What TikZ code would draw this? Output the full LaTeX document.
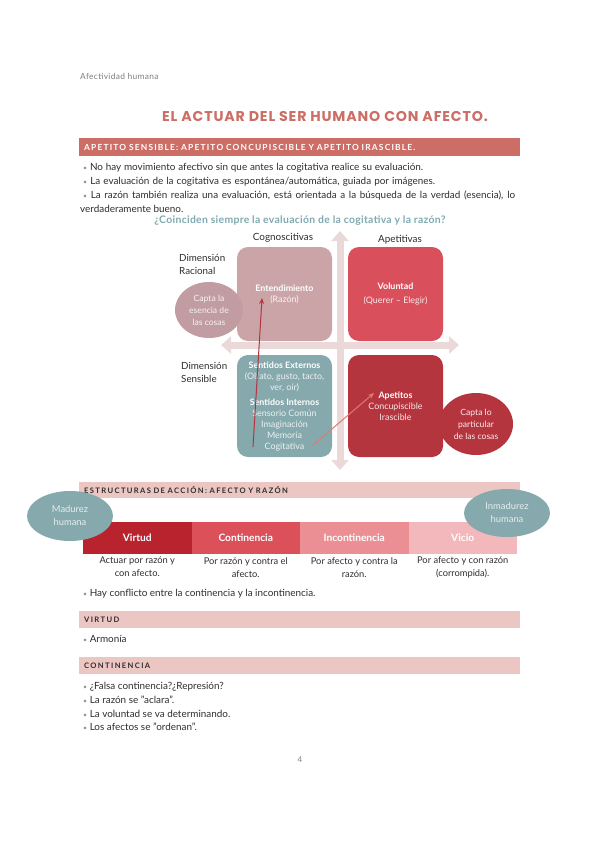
\documentclass[tikz,border=0pt]{standalone}
\usepackage{fontspec}
\setmainfont{Lato}
\newfontfamily\titlefont[LetterSpace=6]{Poppins}
\newfontfamily\capsfont[LetterSpace=14]{Lato}
\newfontfamily\capsfontb[LetterSpace=18,WordSpace=2.2]{Lato}
\newfontfamily\runfont[LetterSpace=4]{Lato}
\newfontfamily\qfont[LetterSpace=3]{Lato}
\usetikzlibrary{arrows.meta,shapes.geometric}
\definecolor{coral}{HTML}{CD6E66}
\definecolor{lightbar}{HTML}{ECC6C3}
\definecolor{teal}{HTML}{85A9AC}
\definecolor{qteal}{HTML}{7FAAB0}
\definecolor{dustypink}{HTML}{CBA4A8}
\definecolor{volred}{HTML}{D94F5C}
\definecolor{apred}{HTML}{B5353F}
\definecolor{axispink}{HTML}{EBD8D9}
\definecolor{virtudc}{HTML}{B8232E}
\definecolor{continc}{HTML}{DC5059}
\definecolor{incontc}{HTML}{EB8F94}
\definecolor{vicioc}{HTML}{F2B8BB}
\definecolor{bodytext}{HTML}{2E2E2E}
\definecolor{bulgray}{HTML}{8A9A9A}
\definecolor{arrowtwo}{HTML}{DE7A72}
\newcommand{\bulmark}{{\color{bulgray}\scalebox{0.7}{•}}\ }
\begin{document}
\begin{tikzpicture}[x=1pt,y=-1pt,
  body/.style={anchor=base west, inner sep=0pt, text=bodytext, font=\fontsize{9.9}{12}\selectfont},
  secbar/.style={anchor=north west, minimum width=441pt, text width=431pt, inner xsep=5pt, inner ysep=0pt, align=left},
  quad/.style={rounded corners=11pt, minimum width=95pt, inner sep=2pt, align=center, text=white, font=\fontsize{8.9}{11}\selectfont},
  blob/.style={ellipse, inner sep=0pt, align=center, font=\fontsize{8.6}{12}\selectfont},
  dimlab/.style={anchor=north west, align=left, inner sep=0pt, text=bodytext, font=\fontsize{9.8}{13}\selectfont},
  axis/.style={draw=axispink, line width=7pt, {Triangle[width=17pt,length=10pt]}-{Triangle[width=17pt,length=10pt]}},
  scalebar/.style={minimum width=108.5pt, minimum height=32pt, inner sep=0pt, text=white, font=\bfseries\fontsize{10.2}{12}\selectfont},
  desc/.style={anchor=north, align=center, inner sep=0pt, text=bodytext, font=\fontsize{9.3}{13}\selectfont}
]
\useasboundingbox (0,0) rectangle (599,848);
\fill[white] (0,0) rectangle (599,848);

\node[anchor=base west, inner sep=0pt, text=gray, font=\runfont\fontsize{8.4}{10}\selectfont] (runhead) at (80,80) {Afectividad humana};
\node[inner sep=0pt, text=coral, font=\titlefont\bfseries\fontsize{14.2}{17}\selectfont] (title) at (325,117) {EL ACTUAR DEL SER HUMANO CON AFECTO.};

% first section
\node[secbar, fill=coral, minimum height=18pt, text=white, font=\capsfont\bfseries\fontsize{8.4}{9}\selectfont] (sec1) at (79,138) {APETITO SENSIBLE: APETITO CONCUPISCIBLE Y APETITO IRASCIBLE.};
\node[body] (b1) at (83,170) {\makebox[340pt][s]{\bulmark No hay movimiento afectivo sin que antes la cogitativa realice su evaluación.}};
\node[body] (b2) at (83,184) {\makebox[352pt][s]{\bulmark La evaluación de la cogitativa es espontánea/automática, guiada por imágenes.}};
\node[body] (b3) at (83,198) {\makebox[432pt][s]{\bulmark La razón también realiza una evaluación, está orientada a la búsqueda de la verdad (esencia), lo}};
\node[body] (b3b) at (80,212) {verdaderamente bueno.};
\node[inner sep=0pt, text=qteal, font=\qfont\bfseries\fontsize{10.4}{12}\selectfont] (question) at (300,221) {¿Coinciden siempre la evaluación de la cogitativa y la razón?};

% axes
\coordinate (vtop) at (340,231);
\coordinate (vbot) at (340,470);
\coordinate (hleft) at (221,345);
\coordinate (hright) at (459,345);
\draw[axis] (vbot) -- (vtop);
\draw[axis] (hleft) -- (hright);

% quadrant boxes
\node[quad, fill=dustypink, minimum height=94pt] (ent) at (284.5,294) {\textbf{Entendimiento}\\{\color{white!88!dustypink}(Razón)}};
\node[quad, fill=volred, minimum height=94pt] (vol) at (395.5,294) {\textbf{Voluntad}\\[3pt]{\color{white!88!volred}(Querer – Elegir)}};
\node[quad, fill=teal, minimum height=102pt] (sent) at (284.5,406) {\textbf{Sentidos Externos}\\{\color{white!85!teal}(Olfato, gusto, tacto,}\\{\color{white!85!teal}ver, oír)}\\[4pt]\textbf{Sentidos Internos}\\{\color{white!85!teal}Sensorio Común}\\{\color{white!85!teal}Imaginación}\\{\color{white!85!teal}Memoria}\\{\color{white!85!teal}Cogitativa}};
\node[quad, fill=apred, minimum height=102pt] (apet) at (395.5,406) {\textbf{Apetitos}\\{\color{white!88!apred}Concupiscible}\\{\color{white!88!apred}Irascible}};

% blobs
\node[blob, fill=dustypink!95!black, minimum width=68pt, minimum height=56pt, text=white!85!dustypink] (esencia) at (209,310) {Capta la\\esencia de\\las cosas};
\node[blob, fill=apred, minimum width=74pt, minimum height=62pt, text=white!90!apred] (particular) at (476,424) {Capta lo\\particular\\de las cosas};

% labels
\node[inner sep=0pt, text=bodytext, font=\fontsize{9.9}{11}\selectfont] (cogn) at (283,238) {Cognoscitivas};
\node[inner sep=0pt, text=bodytext, font=\fontsize{9.9}{11}\selectfont] (apetv) at (400,240) {Apetitivas};
\node[dimlab] (dimrac) at (179,254) {Dimensión\\Racional};
\node[dimlab] (dimsen) at (181,362) {Dimensión\\Sensible};

% arrows
\coordinate (a1s) at (253,447);
\coordinate (a1e) at (262,298);
\coordinate (a2s) at (312,446);
\coordinate (a2e) at (374,393);
\draw[apred, line width=1pt, -{Stealth[length=6pt,width=5pt]}] (a1s) -- (a1e);
\draw[arrowtwo, line width=1pt, -{Stealth[length=6pt,width=5pt]}] (a2s) -- (a2e);

% second section
\node[secbar, fill=lightbar, minimum height=16pt, text=bodytext, font=\capsfontb\bfseries\fontsize{7.6}{8}\selectfont] (sec2) at (79,482) {ESTRUCTURAS DE ACCIÓN: AFECTO Y RAZÓN};
\node[scalebar, fill=virtudc] (virtud) at (137.25,538) {Virtud};
\node[scalebar, fill=continc] (contin) at (245.75,538) {Continencia};
\node[scalebar, fill=incontc] (incont) at (354.25,538) {Incontinencia};
\node[scalebar, fill=vicioc] (vicio) at (462.75,538) {Vicio};
\node[blob, fill=teal, minimum width=86pt, minimum height=50pt, text=white!80!teal, font=\fontsize{9.4}{13}\selectfont] (madurez) at (70,516) {Madurez\\humana};
\node[blob, fill=teal, minimum width=86pt, minimum height=48pt, text=white!80!teal, font=\fontsize{9.4}{13}\selectfont] (inmadurez) at (507,513) {Inmadurez\\humana};
\node[desc] (d1) at (137.25,557) {Actuar por razón y\\con afecto.};
\node[desc] (d2) at (245.75,557) {Por razón y contra el\\afecto.};
\node[desc] (d3) at (354.25,557) {Por afecto y contra la\\razón.};
\node[desc] (d4) at (462.75,557) {Por afecto y con razón\\(corrompida).};
\node[body] (b4) at (83,596) {\bulmark Hay conflicto entre la continencia y la incontinencia.};

% third section
\node[secbar, fill=lightbar, minimum height=17pt, text=bodytext, font=\capsfontb\bfseries\fontsize{7.6}{8}\selectfont] (sec3) at (79,611) {VIRTUD};
\node[body] (b5) at (83,642) {\bulmark Armonía};

% fourth section
\node[secbar, fill=lightbar, minimum height=17pt, text=bodytext, font=\capsfontb\bfseries\fontsize{7.6}{8}\selectfont] (sec4) at (79,657) {CONTINENCIA};
\node[body] (b6) at (83,689) {\bulmark ¿Falsa continencia?¿Represión?};
\node[body] (b7) at (83,703) {\bulmark La razón se ''aclara''.};
\node[body] (b8) at (83,717) {\bulmark La voluntad se va determinando.};
\node[body] (b9) at (83,730) {\bulmark Los afectos se ''ordenan''.};

\node[inner sep=0pt, text=gray, font=\fontsize{8}{9}\selectfont] (pagenum) at (300,760) {4};
\end{tikzpicture}
\end{document}
